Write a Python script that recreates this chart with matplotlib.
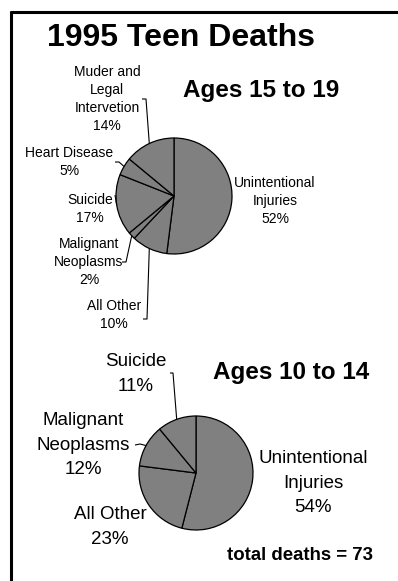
import numpy as np
import matplotlib
matplotlib.use("Agg")
import matplotlib.pyplot as plt

plt.rcParams["font.family"] = ["Liberation Sans", "DejaVu Sans"]

# ── data ─────────────────────────────────────────────────────────────────────
older_labels = ["Unintentional\nInjuries", "All Other", "Malignant\nNeoplasms",
                "Suicide", "Heart Disease", "Muder and\nLegal\nIntervetion"]
older_pcts = [52, 10, 2, 17, 5, 14]

younger_labels = ["Unintentional\nInjuries", "All Other", "Malignant\nNeoplasms", "Suicide"]
younger_pcts = [54, 23, 12, 11]

total_deaths_young = 73

# ── layout (pixel coordinates, y measured from top) ──────────────────────────
W, H = 398, 581
fig = plt.figure(figsize=(W / 100, H / 100), dpi=100)
ax = fig.add_axes([0, 0, 1, 1])

PIE_KW = dict(startangle=-90, counterclock=True,
              colors=["#808080"],
              wedgeprops=dict(edgecolor="black", linewidth=0.9))

# label centres and leader-line anchor points for each slice
older_text_pos = [(275, 201), (114, 315), (89, 262), (90, 209), (69, 162), (107, 99)]
older_leaders = [None, [(147, 319), (143, 319)], [(126, 262), (122, 262)],
                 [(115, 195)], [(119, 162), (115, 162)], [(146, 99), (142, 99)]]

young_text_pos = [(313, 483), (110, 527), (83, 445), (136, 374)]
young_leaders = [None, None, [(140, 444), (135, 445)], [(173, 373), (170, 373)]]


def draw_pie(values, labels, center, radius, text_pos, leaders, fs, ls):
    wedges, _ = ax.pie(values, center=center, radius=radius, **PIE_KW)
    for w, lab, v, tp, ld in zip(wedges, labels, values, text_pos, leaders):
        ax.text(tp[0], tp[1], f"{lab}\n{v}%", ha="center", va="center",
                fontsize=fs, linespacing=ls, color="black")
        if ld:
            mid = np.deg2rad((w.theta1 + w.theta2) / 2)
            ex = center[0] + radius * np.cos(mid)
            ey = center[1] + radius * np.sin(mid)
            xs = [ex] + [p[0] for p in ld]
            ys = [ey] + [p[1] for p in ld]
            ax.plot(xs, ys, color="black", linewidth=0.8, solid_capstyle="butt")


draw_pie(older_pcts, older_labels, (174, 196), 58, older_text_pos, older_leaders, 10, 1.34)
draw_pie(younger_pcts, younger_labels, (196, 473), 57, young_text_pos, young_leaders, 13.5, 1.55)

# frame lines (top and left only)
ax.plot([10, W], [12, 12], color="black", linewidth=2.2, solid_capstyle="butt")
ax.plot([11, 11], [11, H], color="black", linewidth=2.2, solid_capstyle="butt")

# titles
ax.text(181, 38, "1995 Teen Deaths", ha="center", va="center",
        fontsize=23, fontweight="bold")
ax.text(261, 90, "Ages 15 to 19", ha="center", va="center",
        fontsize=17.5, fontweight="bold")
ax.text(291, 372, "Ages 10 to 14", ha="center", va="center",
        fontsize=17.5, fontweight="bold")
ax.text(300, 555, f"total deaths = {total_deaths_young}", ha="center", va="center",
        fontsize=13.4, fontweight="bold")

ax.set_xlim(0, W)
ax.set_ylim(H, 0)
ax.set_aspect("equal")
ax.axis("off")

fig.savefig("out.png", dpi=100, facecolor="white")
